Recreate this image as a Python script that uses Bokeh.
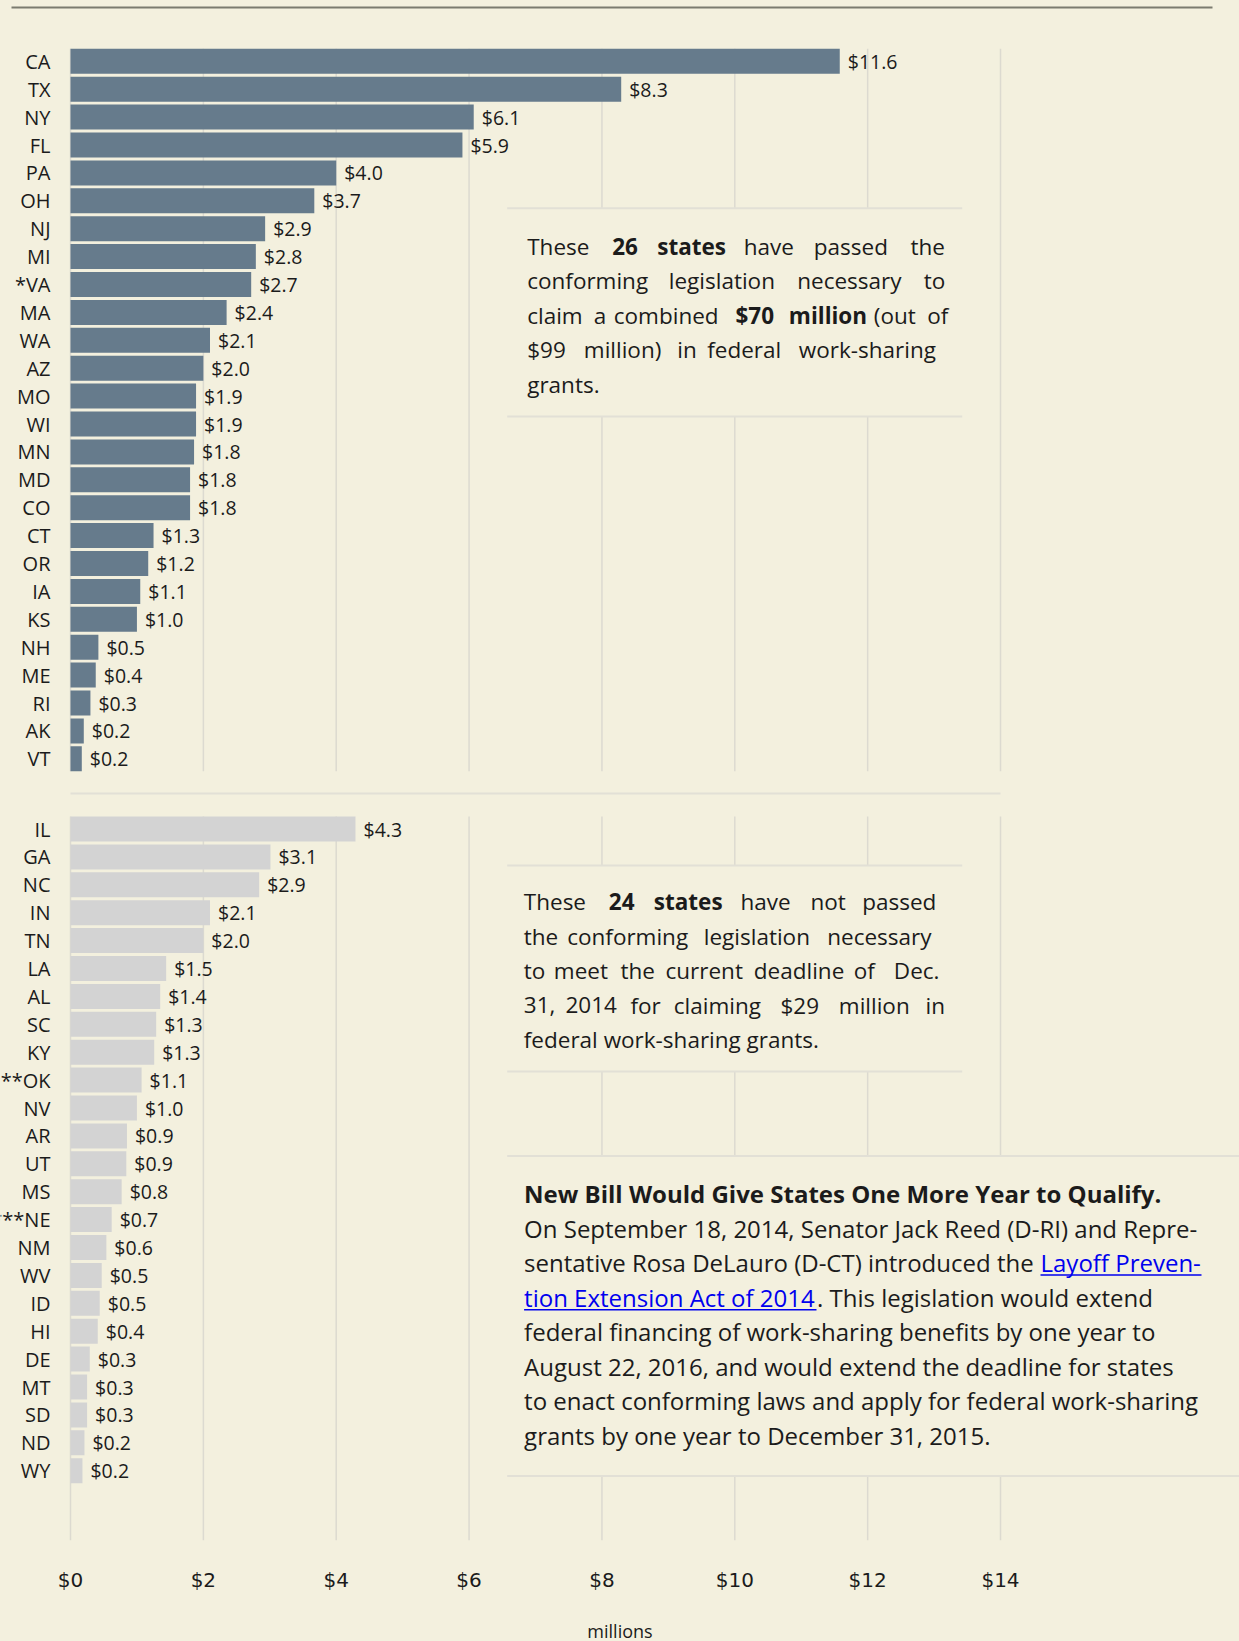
from bokeh.plotting import figure
from bokeh.models import Range1d, ColumnDataSource, FixedTicker
from bokeh.core.properties import value
from bokeh.embed import file_html
from bokeh.resources import INLINE

# ---------------- data ----------------
passed_states = ["CA", "TX", "NY", "FL", "PA", "OH", "NJ", "MI", "*VA", "MA", "WA", "AZ", "MO",
                 "WI", "MN", "MD", "CO", "CT", "OR", "IA", "KS", "NH", "ME", "RI", "AK", "VT"]
passed_values = [11.58, 8.29, 6.07, 5.9, 4.0, 3.67, 2.93, 2.79, 2.72, 2.35, 2.1, 2.0, 1.89,
                 1.89, 1.86, 1.8, 1.8, 1.25, 1.17, 1.05, 1.0, 0.42, 0.38, 0.3, 0.2, 0.17]
passed_labels = ["$11.6", "$8.3", "$6.1", "$5.9", "$4.0", "$3.7", "$2.9", "$2.8", "$2.7", "$2.4",
                 "$2.1", "$2.0", "$1.9", "$1.9", "$1.8", "$1.8", "$1.8", "$1.3", "$1.2", "$1.1",
                 "$1.0", "$0.5", "$0.4", "$0.3", "$0.2", "$0.2"]

pending_states = ["IL", "GA", "NC", "IN", "TN", "LA", "AL", "SC", "KY", "**OK", "NV", "AR", "UT",
                  "MS", "***NE", "NM", "WV", "ID", "HI", "DE", "MT", "SD", "ND", "WY"]
pending_values = [4.29, 3.01, 2.84, 2.1, 2.0, 1.44, 1.35, 1.29, 1.26, 1.07, 1.0, 0.85, 0.84,
                  0.77, 0.62, 0.54, 0.47, 0.44, 0.41, 0.29, 0.25, 0.25, 0.21, 0.18]
pending_labels = ["$4.3", "$3.1", "$2.9", "$2.1", "$2.0", "$1.5", "$1.4", "$1.3", "$1.3", "$1.1",
                  "$1.0", "$0.9", "$0.9", "$0.8", "$0.7", "$0.6", "$0.5", "$0.5", "$0.4", "$0.3",
                  "$0.3", "$0.3", "$0.2", "$0.2"]

x_ticks = [0, 2, 4, 6, 8, 10, 12, 14]
x_tick_labels = ["$0", "$2", "$4", "$6", "$8", "$10", "$12", "$14"]

# ---------------- layout / style ----------------
BG = "#f3f0de"
TXT = "#1b1b1b"
GRID = "#dcdad0"
BOXLINE = "#e2e0d6"
FONT = "Open Sans"
FW, FH = 1239, 1540   # frame size (page px)
PX0 = 70.0            # page x of value 0
PXU = 66.43           # pixels per million
PITCH = 27.9
TOP0 = 60.8           # page y of first passed row
BOT0 = 828.5          # page y of first pending row


def fx(px):
    return (px - PX0) / PXU


p = figure(frame_width=FW, frame_height=FH, output_backend="svg", toolbar_location=None,
           x_range=Range1d(fx(0), fx(FW)), y_range=Range1d(FH, 0),
           min_border_left=0, min_border_right=0, min_border_top=0, min_border_bottom=96,
           background_fill_color=BG, border_fill_color=BG, outline_line_color=None,
           y_axis_location=None)
p.grid.visible = False

# top rule
p.segment(x0=[fx(11)], y0=[7], x1=[fx(1212)], y1=[7], line_color="#7b7b6f", line_width=2)

# grid lines per panel
p.segment(x0=x_ticks, y0=[TOP0 - 12.5] * len(x_ticks), x1=x_ticks,
          y1=[TOP0 + PITCH * (len(passed_states) - 1) + 12.5] * len(x_ticks),
          line_color=GRID, line_width=1.5)
p.segment(x0=x_ticks, y0=[BOT0 - 12.5] * len(x_ticks), x1=x_ticks,
          y1=[FH] * len(x_ticks), line_color=GRID, line_width=1.5)

# separator between panels
p.segment(x0=[x_ticks[0]], y0=[793], x1=[x_ticks[-1]], y1=[793], line_color=BOXLINE, line_width=2)

# text boxes (cover grid lines)
boxes = [(506.7, 961.7, 207.7, 416.0), (506.7, 961.7, 865.0, 1071.0), (506.7, 1245.0, 1155.5, 1475.5)]
p.quad(left=[fx(b[0]) for b in boxes], right=[fx(b[1]) for b in boxes],
       top=[b[2] for b in boxes], bottom=[b[3] for b in boxes],
       fill_color=BG, line_color=None)
for (l, r, t, b) in boxes:
    p.segment(x0=[fx(l), fx(l)], y0=[t, b], x1=[fx(r), fx(r)], y1=[t, b],
              line_color=BOXLINE, line_width=2)

# bars
ys_top = [TOP0 + i * PITCH for i in range(len(passed_states))]
ys_bot = [BOT0 + i * PITCH for i in range(len(pending_states))]
src_top = ColumnDataSource(dict(y=ys_top, v=passed_values, s=passed_states, lab=passed_labels))
src_bot = ColumnDataSource(dict(y=ys_bot, v=pending_values, s=pending_states, lab=pending_labels))

p.hbar(y="y", left=0, right="v", height=25, source=src_top, fill_color="#667b8c", line_color=None)
p.hbar(y="y", left=0, right="v", height=25, source=src_bot, fill_color="#d3d3d3", line_color=None)

for src in (src_top, src_bot):
    p.text(x=0, y="y", text="s", source=src, x_offset=-20, text_align="right",
           text_baseline="middle", text_font=value(FONT), text_font_size="20px", text_color=TXT)
    p.text(x="v", y="y", text="lab", source=src, x_offset=8, text_align="left",
           text_baseline="middle", text_font=value(FONT), text_font_size="19.5px", text_color=TXT)

# ---------------- annotation text ----------------
BOX_FS = "22.5px"
words1 = [
    [(526.7, "These", 0), (611.7, "26", 1), (656.7, "states", 1), (743.3, "have", 0),
     (813.3, "passed", 0), (910.0, "the", 0)],
    [(526.7, "conforming", 0), (668.3, "legislation", 0), (796.7, "necessary", 0), (923.3, "to", 0)],
    [(526.7, "claim", 0), (593.3, "a", 0), (613.3, "combined", 0), (735.0, "$70", 1),
     (788.3, "million", 1), (873.3, "(out", 0), (926.7, "of", 0)],
    [(526.7, "$99", 0), (583.3, "million)", 0), (676.7, "in", 0), (706.7, "federal", 0),
     (798.3, "work-sharing", 0)],
    [(526.7, "grants.", 0)],
]
words2 = [
    [(523.3, "These", 0), (608.3, "24", 1), (653.3, "states", 1), (740.0, "have", 0),
     (810.0, "not", 0), (861.7, "passed", 0)],
    [(523.3, "the", 0), (566.7, "conforming", 0), (703.3, "legislation", 0), (826.7, "necessary", 0)],
    [(523.3, "to", 0), (553.3, "meet", 0), (620.0, "the", 0), (665.0, "current", 0),
     (753.3, "deadline", 0), (853.3, "of", 0), (893.3, "Dec.", 0)],
    [(523.3, "31,", 0), (565.0, "2014", 0), (630.0, "for", 0), (673.3, "claiming", 0),
     (780.0, "$29", 0), (838.3, "million", 0), (925.0, "in", 0)],
    [(523.3, "federal work-sharing grants.", 0)],
]


def place_words(lines, base, pitch):
    xs, ys, ts, bold = [], [], [], []
    for k, line in enumerate(lines):
        for (px, t, b) in line:
            xs.append(fx(px)); ys.append(base + k * pitch); ts.append(t); bold.append(b)
    for flag, style in ((0, "normal"), (1, "bold")):
        idx = [i for i in range(len(ts)) if bold[i] == flag]
        p.text(x=[xs[i] for i in idx], y=[ys[i] for i in idx], text=[ts[i] for i in idx],
               text_align="left", text_baseline="middle", text_font=value(FONT),
               text_font_size=BOX_FS, text_font_style=style, text_color=TXT)


place_words(words1, 245.5, 34.6)
place_words(words2, 901.0, 34.5)

# box 3
B3FS = "24px"
B3X = 523.6
B3Y = 1193.0
B3P = 34.55
LINK = "#0000ee"
p.text(x=[fx(B3X)], y=[B3Y], text=["New Bill Would Give States One More Year to Qualify."],
       text_font=value(FONT), text_font_size=B3FS, text_font_style="bold",
       text_color=TXT, text_baseline="middle")
plain = [
    (B3X, 1, "On September 18, 2014, Senator Jack Reed (D-RI) and Repre-"),
    (B3X, 2, "sentative Rosa DeLauro (D-CT) introduced the"),
    (816.5, 3, ". This legislation would extend"),
    (B3X, 4, "federal financing of work-sharing benefits by one year to"),
    (B3X, 5, "August 22, 2016, and would extend the deadline for states"),
    (B3X, 6, "to enact conforming laws and apply for federal work-sharing"),
    (B3X, 7, "grants by one year to December 31, 2015."),
]
p.text(x=[fx(a) for a, _, _ in plain], y=[B3Y + k * B3P for _, k, _ in plain],
       text=[t for _, _, t in plain], text_font=value(FONT), text_font_size=B3FS,
       text_color=TXT, text_baseline="middle")
links = [(1040.0, 1201.0, 2, "Layoff Preven-"), (B3X, 816.0, 3, "tion Extension Act of 2014")]
p.text(x=[fx(a) for a, _, _, _ in links], y=[B3Y + k * B3P for _, _, k, _ in links],
       text=[t for _, _, _, t in links], text_font=value(FONT), text_font_size=B3FS,
       text_color=LINK, text_baseline="middle")
p.segment(x0=[fx(a) for a, _, _, _ in links], y0=[B3Y + k * B3P + 12.5 for _, _, k, _ in links],
          x1=[fx(b) for _, b, _, _ in links], y1=[B3Y + k * B3P + 12.5 for _, _, k, _ in links],
          line_color=LINK, line_width=1.5)

# ---------------- axis ----------------
ax = p.xaxis[0]
ax.ticker = FixedTicker(ticks=x_ticks)
ax.major_label_overrides = {t: lab for t, lab in zip(x_ticks, x_tick_labels)}
ax.axis_line_color = None
ax.major_tick_line_color = None
ax.minor_tick_line_color = None
ax.major_tick_out = 0
ax.major_tick_in = 0
ax.minor_tick_out = 0
ax.minor_tick_in = 0
ax.major_label_standoff = 27
ax.major_label_text_font = "DejaVu Sans"
ax.major_label_text_font_size = "20px"
ax.major_label_text_color = TXT
ax.axis_label = "millions"
ax.axis_label_text_font = FONT
ax.axis_label_text_font_style = "normal"
ax.axis_label_text_font_size = "18px"
ax.axis_label_text_color = TXT
ax.axis_label_standoff = 24

html = file_html(p, INLINE, title="Work-sharing grants by state")
html = html.replace("</head>", "<style>body{background-color:%s;}</style></head>" % BG, 1)
open("out.html", "w").write(html)
